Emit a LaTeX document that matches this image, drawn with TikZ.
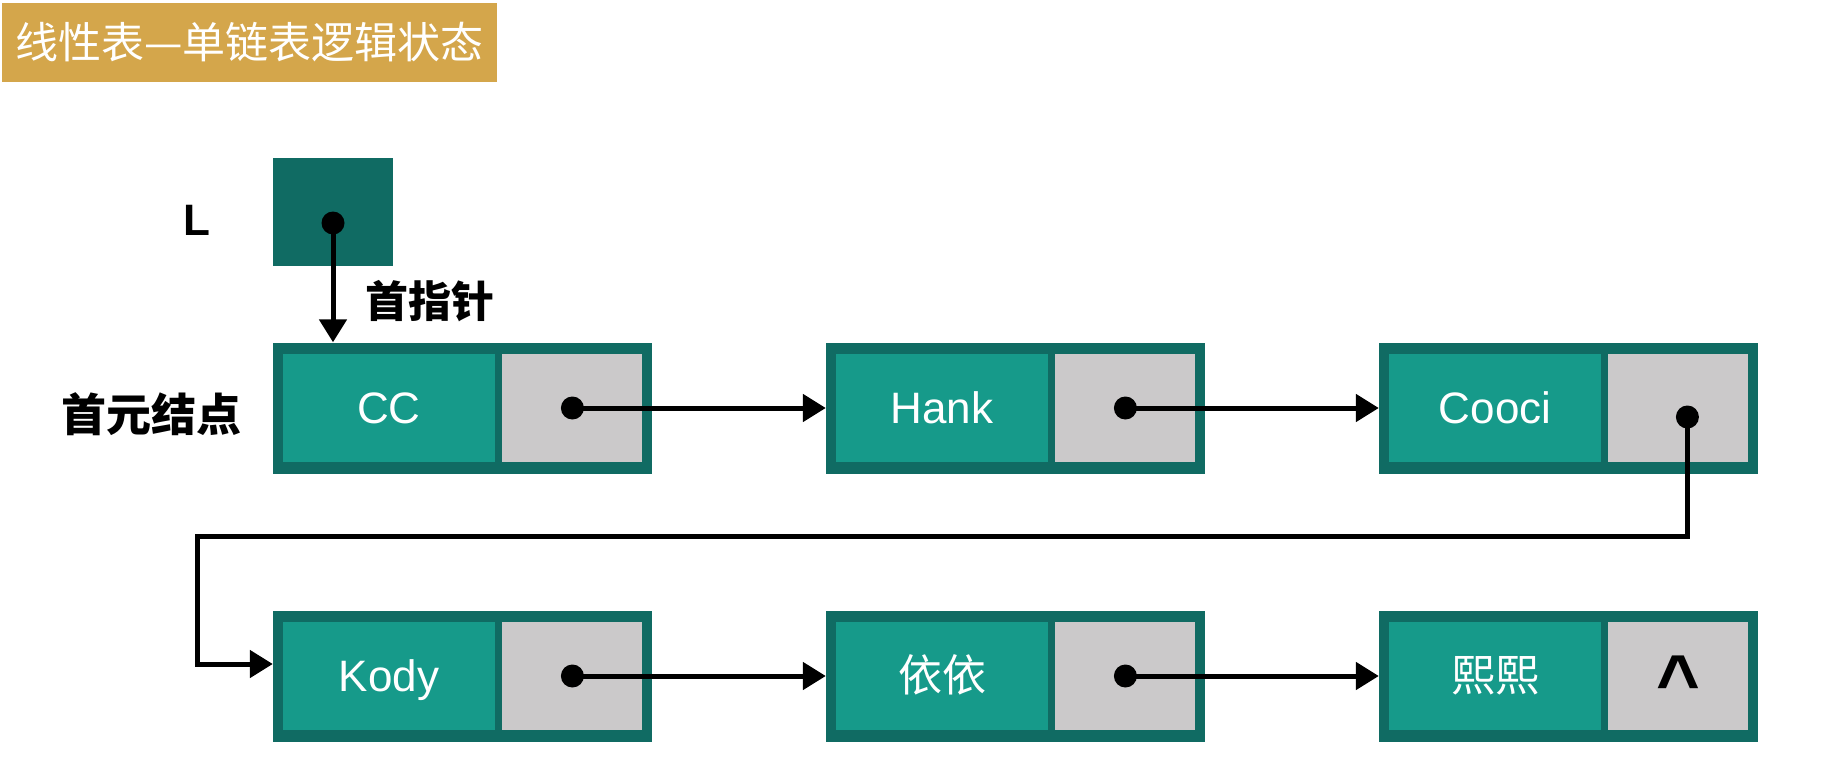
\documentclass[tikz,border=0pt]{standalone}
\usepackage{fontspec}
\setmainfont{Liberation Sans}
\newfontfamily\cjk{Noto Sans CJK SC}
\usetikzlibrary{positioning,arrows.meta,calc}
\definecolor{framedark}{RGB}{16,107,99}
\definecolor{datateal}{RGB}{22,154,138}
\definecolor{ptrgray}{RGB}{203,201,202}
\definecolor{titlegold}{RGB}{212,166,75}

\begin{document}
\begin{tikzpicture}[x=1pt,y=-1pt,
  frame/.style={fill=framedark, minimum width=379pt, minimum height=131pt, inner sep=0pt},
  datacell/.style={fill=datateal, minimum width=212pt, minimum height=108pt, inner sep=0pt,
    text=white, font=\fontsize{44}{50}\selectfont, text height=31pt, text depth=0pt},
  ptrcell/.style={fill=ptrgray, minimum width=140pt, minimum height=108pt, inner sep=0pt},
  dot/.style={circle, fill=black, minimum size=23pt, inner sep=0pt},
  ptr/.style={line width=5pt, -{Triangle[length=23pt,width=27pt]}}]
\useasboundingbox (0,0) rectangle (1838,782);
% title bar
\node[fill=titlegold, text=white, minimum width=495pt, minimum height=79pt, inner sep=0pt,
  font=\cjk\fontsize{43}{50}\selectfont] (title) at (249.5,42.5) {线性表—单链表逻辑状态};
% head pointer L
\node[font=\bfseries\fontsize{44}{50}\selectfont] (lname) at (197,220) {L};
\node[fill=framedark, minimum width=120pt, minimum height=108pt, inner sep=0pt] (lbox) at (333,212) {};
\node[dot] (ldot) at (333,223) {};
% first row
\node[frame] (cc) at (462.5,408) {};
\node[datacell, right=10pt of cc.west] (cc-d) {CC};
\node[ptrcell, right=7pt of cc-d] (cc-p) {};
\node[dot] (cc-dot) at (cc-p) {};
\node[frame] (hank) at (1015.5,408) {};
\node[datacell, right=10pt of hank.west] (hank-d) {Hank};
\node[ptrcell, right=7pt of hank-d] (hank-p) {};
\node[dot] (hank-dot) at (hank-p) {};
\node[frame] (cooci) at (1568.5,408) {};
\node[datacell, right=10pt of cooci.west] (cooci-d) {Cooci};
\node[ptrcell, right=7pt of cooci-d] (cooci-p) {};
\node[dot, xshift=9pt, yshift=-9pt] (cooci-dot) at (cooci-p) {};
% second row
\node[frame] (kody) at (462.5,676) {};
\node[datacell, right=10pt of kody.west] (kody-d) {Kody};
\node[ptrcell, right=7pt of kody-d] (kody-p) {};
\node[dot] (kody-dot) at (kody-p) {};
\node[frame] (yiyi) at (1015.5,676) {};
\node[datacell, right=10pt of yiyi.west] (yiyi-d) {\cjk 依依};
\node[ptrcell, right=7pt of yiyi-d] (yiyi-p) {};
\node[dot] (yiyi-dot) at (yiyi-p) {};
\node[frame] (xixi) at (1568.5,676) {};
\node[datacell, right=10pt of xixi.west] (xixi-d) {\cjk 熙熙};
\node[ptrcell, right=7pt of xixi-d] (xixi-p) {};
\node[anchor=base, inner sep=0pt, font=\bfseries\fontsize{75}{80}\selectfont] (xixi-null)
  at ([yshift=-31pt]xixi-p.center) {\textasciicircum};
% labels
\node[font=\cjk\bfseries\fontsize{43}{48}\selectfont] (headlabel) at (430,301) {首指针};
\node[font=\cjk\bfseries\fontsize{45}{50}\selectfont] (firstlabel) at (151,414) {首元结点};
% pointers
\draw[ptr] (ldot.center) -- (ldot.center |- cc.north);
\draw[ptr] (cc-dot.center) -- (hank.west);
\draw[ptr] (hank-dot.center) -- (cooci.west);
\coordinate (wrap) at (197,536);
\draw[ptr] (cooci-dot.center) |- (wrap) |- ([yshift=12pt]kody.west);
\draw[ptr] (kody-dot.center) -- (yiyi.west);
\draw[ptr] (yiyi-dot.center) -- (xixi.west);
\end{tikzpicture}
\end{document}
